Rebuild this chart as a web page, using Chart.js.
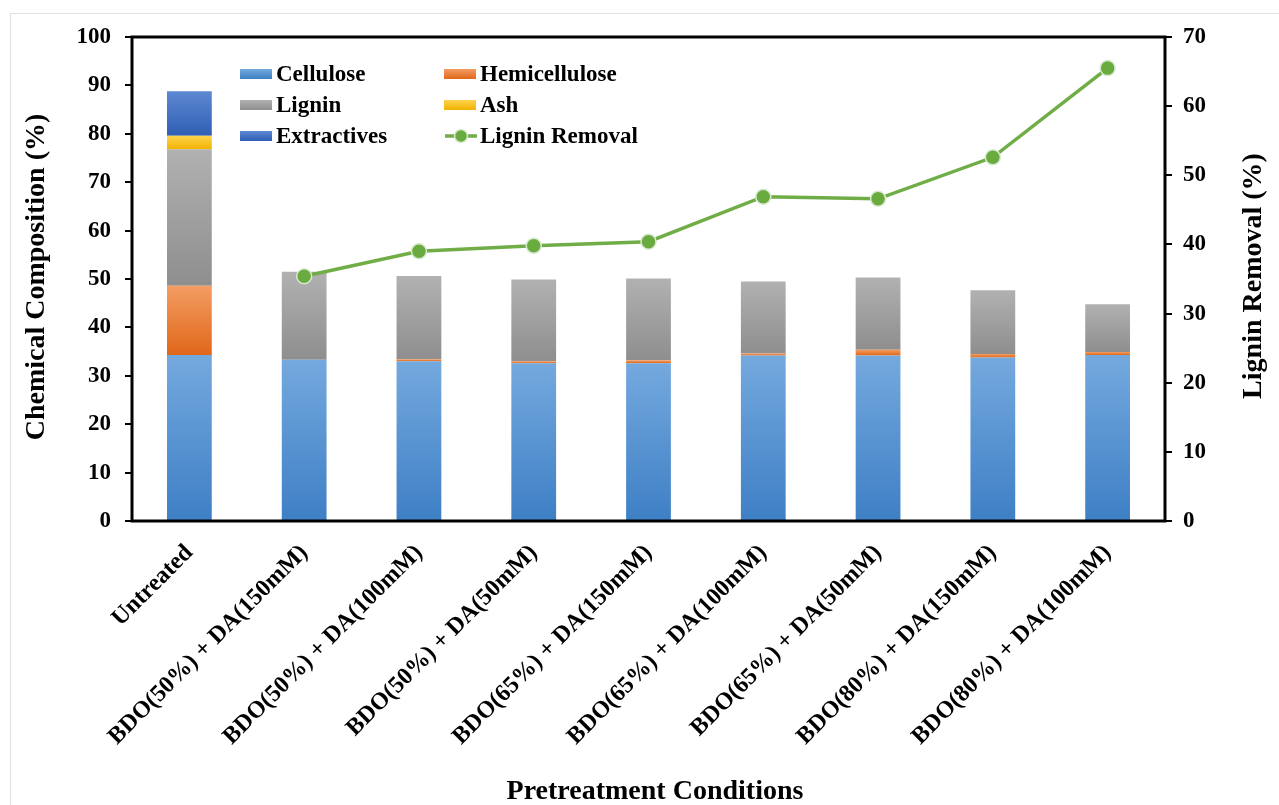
<!DOCTYPE html>
<html>
<head>
<meta charset="utf-8">
<script src="https://cdn.jsdelivr.net/npm/chart.js@4.4.0/dist/chart.umd.min.js"></script>
<style>
    html, body { margin: 0; padding: 0; background: #fff; overflow: hidden; }
    #frame { position: absolute; left: 10px; top: 13px; width: 1400px; height: 900px; border-left: 1px solid #dde1e6; border-top: 1px solid #dde1e6; }
    #wrap { position: absolute; left: 0; top: 0; width: 1279px; height: 805px; }
</style>
</head>
<body>
<div id="frame"></div>
<div id="wrap"><canvas id="chartComp"></canvas></div>
<script>
// data
var conditions = ['Untreated', 'BDO(50%) + DA(150mM)', 'BDO(50%) + DA(100mM)', 'BDO(50%) + DA(50mM)',
    'BDO(65%) + DA(150mM)', 'BDO(65%) + DA(100mM)', 'BDO(65%) + DA(50mM)',
    'BDO(80%) + DA(150mM)', 'BDO(80%) + DA(100mM)'];
var cellulose = [34.3, 33.3, 33.0, 32.6, 32.6, 34.2, 34.2, 33.8, 34.3];
var hemicellulose = [14.3, 0, 0.4, 0.4, 0.6, 0.4, 1.2, 0.7, 0.6];
var lignin = [28.2, 18.2, 17.2, 16.9, 16.9, 14.9, 14.9, 13.2, 9.9];
var ash = [2.8, 0, 0, 0, 0, 0, 0, 0, 0];
var extractives = [9.2, 0, 0, 0, 0, 0, 0, 0, 0];
var ligninRemoval = [null, 35.4, 39.0, 39.8, 40.4, 46.9, 46.6, 52.6, 65.5];
var leftTicks = [0, 10, 20, 30, 40, 50, 60, 70, 80, 90, 100];
var rightTicks = [0, 10, 20, 30, 40, 50, 60, 70];

var FONT = "'Liberation Serif', 'Times New Roman', serif";

var colCellulose = ['#74a9de', '#3e7fc5'];
var colHemi = ['#f39d63', '#e0671a'];
var colLignin = ['#b1b1b1', '#8e8e8e'];
var colAsh = ['#ffd34f', '#f0b300'];
var colExtr = ['#5d88d2', '#2f5eb4'];
var colLine = '#70ad47';

// vertical gradient per stacked segment, like the excel fill
function segGradient(colors, series, below) {
    return function (ctx) {
        var chart = ctx.chart;
        var y = chart.scales.y;
        if (!y || ctx.type !== 'data') return colors[0];
        var i = ctx.dataIndex;
        var base = 0;
        below.forEach(function (s) { base += s[i] || 0; });
        var top = base + (series[i] || 0);
        var y0 = y.getPixelForValue(top), y1 = y.getPixelForValue(base);
        if (!isFinite(y0) || !isFinite(y1) || y1 - y0 < 1) return colors[1];
        var g = chart.ctx.createLinearGradient(0, y0, 0, y1);
        g.addColorStop(0, colors[0]);
        g.addColorStop(1, colors[1]);
        return g;
    };
}

var legendItems = [
    { text: 'Cellulose', colors: colCellulose, col: 0, row: 0 },
    { text: 'Hemicellulose', colors: colHemi, col: 1, row: 0 },
    { text: 'Lignin', colors: colLignin, col: 0, row: 1 },
    { text: 'Ash', colors: colAsh, col: 1, row: 1 },
    { text: 'Extractives', colors: colExtr, col: 0, row: 2 },
    { text: 'Lignin Removal', line: true, col: 1, row: 2 }
];

// frame around the plot, legend inside it, and the axis titles
var boxPlugin = {
    id: 'boxAndLegend',
    afterDraw: function (chart) {
        var c = chart.ctx, a = chart.chartArea;
        c.save();
        c.strokeStyle = '#000';
        c.lineWidth = 3;
        c.strokeRect(a.left, a.top, a.right - a.left, a.bottom - a.top);

        c.font = 'bold 23px ' + FONT;
        c.textBaseline = 'middle';
        c.fillStyle = '#000';
        legendItems.forEach(function (it) {
            var x = 240 + it.col * 204;
            var y = 74 + it.row * 31;
            if (it.line) {
                c.strokeStyle = colLine;
                c.lineWidth = 3.5;
                c.beginPath();
                c.moveTo(x + 1, y);
                c.lineTo(x + 33, y);
                c.stroke();
                c.beginPath();
                c.arc(x + 17, y, 6.5, 0, Math.PI * 2);
                c.fillStyle = '#6aab3f';
                c.fill();
                c.lineWidth = 1.5;
                c.strokeStyle = '#d9ead3';
                c.stroke();
            } else {
                var g = c.createLinearGradient(0, y - 5, 0, y + 5);
                g.addColorStop(0, it.colors[0]);
                g.addColorStop(1, it.colors[1]);
                c.fillStyle = g;
                c.fillRect(x, y - 5, 32, 10);
            }
            c.fillStyle = '#000';
            c.fillText(it.text, x + 36, y + 1);
        });

        // axis titles
        c.font = 'bold 28px ' + FONT;
        c.textAlign = 'center';
        c.textBaseline = 'middle';
        c.fillText('Pretreatment Conditions', 655, 792);
        c.save();
        c.translate(37, 277);
        c.rotate(-Math.PI / 2);
        c.fillText('Chemical Composition (%)', 0, 0);
        c.restore();
        c.save();
        c.translate(1254, 276);
        c.rotate(-Math.PI / 2);
        c.fillText('Lignin Removal (%)', 0, 0);
        c.restore();
        c.restore();
    }
};

var ctx = document.getElementById('chartComp');
var compChart = new Chart(ctx, {
    type: 'bar',
    data: {
        labels: conditions,
        datasets: [
            { label: 'Cellulose', data: cellulose, backgroundColor: segGradient(colCellulose, cellulose, []), order: 1 },
            { label: 'Hemicellulose', data: hemicellulose, backgroundColor: segGradient(colHemi, hemicellulose, [cellulose]), order: 1 },
            { label: 'Lignin', data: lignin, backgroundColor: segGradient(colLignin, lignin, [cellulose, hemicellulose]), order: 1 },
            { label: 'Ash', data: ash, backgroundColor: segGradient(colAsh, ash, [cellulose, hemicellulose, lignin]), order: 1 },
            { label: 'Extractives', data: extractives, backgroundColor: segGradient(colExtr, extractives, [cellulose, hemicellulose, lignin, ash]), order: 1 },
            {
                type: 'line', label: 'Lignin Removal', data: ligninRemoval, yAxisID: 'y1', stack: 'line',
                borderColor: colLine, borderWidth: 3.5, pointRadius: 7.5, pointHoverRadius: 7.5,
                pointBackgroundColor: '#6aab3f', pointBorderColor: '#d9ead3', pointBorderWidth: 1.5,
                spanGaps: true, order: 0
            }
        ]
    },
    options: {
        responsive: true,
        maintainAspectRatio: false,
        animation: false,
        layout: { padding: { left: 0, top: 37, right: 0, bottom: 0 } },
        datasets: { bar: { barPercentage: 0.39, categoryPercentage: 1 } },
        plugins: { legend: { display: false }, tooltip: { enabled: false } },
        scales: {
            x: {
                stacked: true,
                grid: { display: false },
                border: { display: false },
                ticks: {
                    color: '#000', font: { family: FONT, size: 24, weight: 'bold' },
                    minRotation: 45, maxRotation: 45, autoSkip: false, padding: 10
                },
                afterFit: function (s) { s.height = 284; }
            },
            y: {
                stacked: true,
                min: 0, max: 100,
                grid: { drawOnChartArea: false, color: '#000', lineWidth: 2, tickLength: 7 },
                border: { display: false },
                afterBuildTicks: function (s) { s.ticks = leftTicks.map(function (v) { return { value: v }; }); },
                ticks: { color: '#000', font: { family: FONT, size: 23, weight: 'bold' }, padding: 14 },
                afterFit: function (s) { s.width = 132; }
            },
            y1: {
                position: 'right',
                min: 0, max: 70,
                grid: { drawOnChartArea: false, color: '#000', lineWidth: 2, tickLength: 7 },
                border: { display: false },
                afterBuildTicks: function (s) { s.ticks = rightTicks.map(function (v) { return { value: v }; }); },
                ticks: { color: '#000', font: { family: FONT, size: 23, weight: 'bold' }, padding: 11 },
                afterFit: function (s) { s.width = 114; }
            }
        }
    },
    plugins: [boxPlugin]
});
</script>
</body>
</html>
